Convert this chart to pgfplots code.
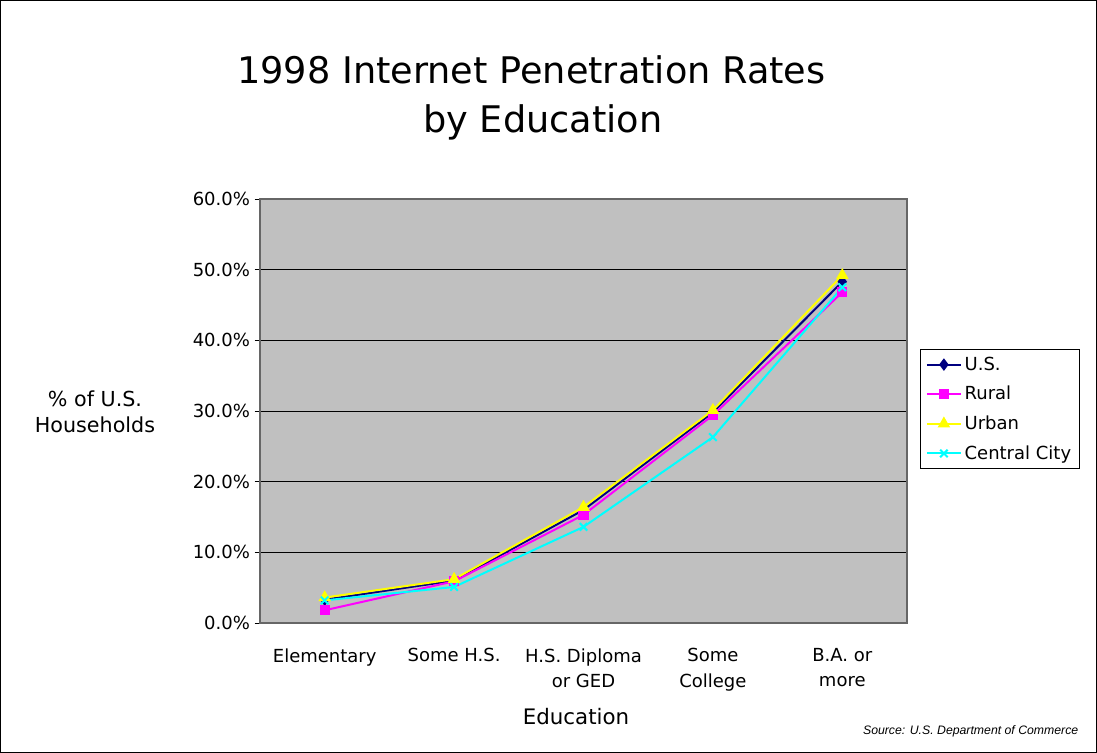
\documentclass[border=0pt]{standalone}
\usepackage{pgfplots}
\pgfplotsset{compat=1.18}
\usepackage{fontspec}
\setmainfont{DejaVu Sans}
\newfontfamily\arialfont{Liberation Sans}
\definecolor{plotgray}{HTML}{C0C0C0}
\definecolor{usnavy}{HTML}{000080}
\definecolor{ruralmag}{HTML}{FF00FF}
\definecolor{urbanyel}{HTML}{FFFF00}
\definecolor{citycyan}{HTML}{00FFFF}
\begin{document}
\begin{tikzpicture}
\useasboundingbox (0pt,0pt) rectangle (822.75pt,564.75pt);
% page frame
\draw[black,line width=0.75pt] (0.4pt,0.4pt) rectangle (822.35pt,564.35pt);
% title
\node[font=\fontsize{27.5}{32}\selectfont,anchor=center] at (398.6pt,512.25pt) {1998 Internet Penetration Rates};
\node[font=\fontsize{27.5}{32}\selectfont,anchor=center] at (407.2pt,473pt) {by Education};
% y label
\node[font=\fontsize{15.5}{19.5}\selectfont,align=center] at (71.25pt,255.75pt) {\% of U.S.\\Households};
% x label
\node[font=\fontsize{16}{19}\selectfont] at (432pt,27pt) {Education};
% source
\node[font=\arialfont\itshape\fontsize{9.2}{11}\selectfont] at (728pt,16.5pt) {Source: U.S. Department of Commerce};
\begin{axis}[
  at={(195pt,97.5pt)}, anchor=south west,
  scale only axis, width=485.25pt, height=318pt,
  xmin=0.5, xmax=5.5, ymin=0, ymax=60,
  axis background/.style={fill=plotgray},
  axis line style={draw=gray!80!black, line width=0.8pt},
  xtick={1,2,3,4,5},
  xticklabels={Elementary,Some H.S.,{H.S. Diploma\\or GED},Some\\College,{B.A. or\\more}},
  xticklabel style={align=center, font=\fontsize{13.5}{19}\selectfont, anchor=north, yshift=-11.5pt},
  major x tick style={draw=none},
  extra x ticks={0.5,1.5,2.5,3.5,4.5,5.5},
  extra x tick labels={},
  extra x tick style={tick style={draw=black,line width=0.6pt}, major tick length=5pt, tick align=outside},
  ytick={0,10,...,60},
  yticklabel={\pgfmathprintnumber[fixed,fixed zerofill,precision=1]{\tick}\%},
  yticklabel style={font=\fontsize{13.5}{16}\selectfont, /pgf/number format/assume math mode=true},
  /pgf/number format/assume math mode=true,
  ytick style={draw=black, line width=0.6pt},
  tick align=outside, major tick length=4pt,
  xtick pos=bottom, ytick pos=left,
  ymajorgrids, grid style={black, line width=0.7pt},
  every axis plot/.append style={line width=1.5pt, mark size=3.5pt},
  legend image code/.code={\draw[mark repeat=2,mark phase=2] plot coordinates {(0cm,0cm) (0.45cm,0cm) (0.9cm,0cm)};},
  legend style={at={(1.0201,0.646)}, anchor=north west, draw=black, line width=0.75pt,
    font=\fontsize{13.5}{16}\selectfont, row sep=6.5pt, inner xsep=4pt, inner ysep=3.5pt,
    cells={anchor=west}},
  legend cell align=left,
]
\addplot[usnavy, mark=diamond*, mark options={fill=usnavy}] coordinates {(1,3.3) (2,6.0) (3,16.0) (4,29.8) (5,48.3)};
\addplot[ruralmag, mark=square*, mark size=3pt, mark options={fill=ruralmag}] coordinates {(1,1.8) (2,5.9) (3,15.3) (4,29.4) (5,46.8)};
\addplot[urbanyel, mark=triangle*, mark size=4pt, mark options={fill=urbanyel}] coordinates {(1,3.6) (2,6.2) (3,16.4) (4,30.1) (5,49.2)};
\addplot[citycyan, mark=x, mark size=4pt] coordinates {(1,3.2) (2,5.1) (3,13.6) (4,26.3) (5,47.5)};
\legend{U.S.,Rural,Urban,Central City}
\end{axis}
\end{tikzpicture}
\end{document}
